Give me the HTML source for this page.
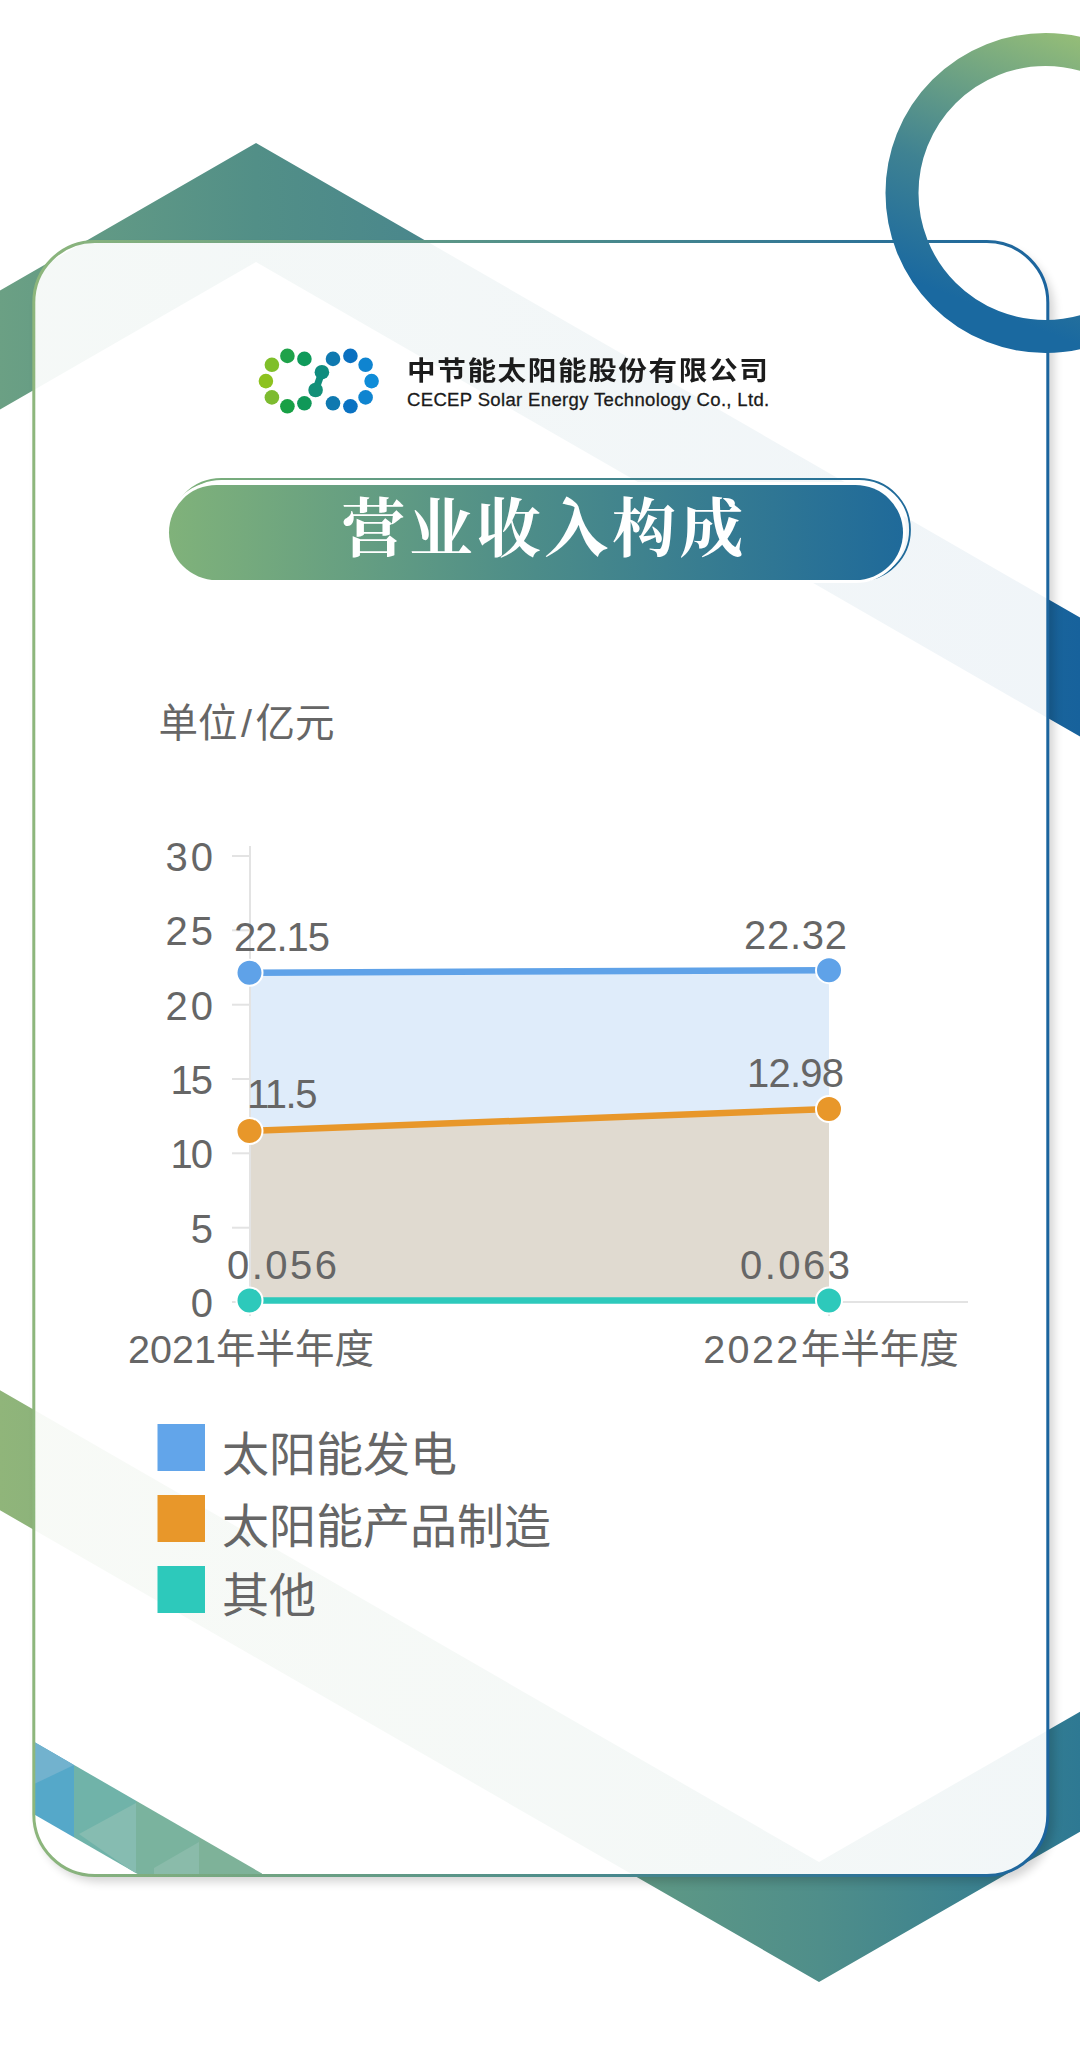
<!DOCTYPE html>
<html lang="zh-CN">
<head>
<meta charset="utf-8">
<title>营业收入构成</title>
<style>
html,body{margin:0;padding:0;}
body{width:1080px;height:2053px;position:relative;overflow:hidden;background:#fff;font-family:"Liberation Sans","Noto Sans CJK SC",sans-serif;}
svg{position:absolute;left:0;top:0;}
.t{position:absolute;white-space:nowrap;line-height:1;}
#cn{left:407.200px;top:358px;font-size:26px;font-weight:700;color:#1c1c1c;letter-spacing:1.450px;transform:scaleX(1.1);transform-origin:0 0;font-family:"Liberation Sans","Noto Sans CJK SC",sans-serif;}
#en{left:407px;top:390.500px;font-size:18.500px;color:#1a1a1a;letter-spacing:0.350px;-webkit-text-stroke:0.300px #1a1a1a;}
#title{left:341.500px;top:482px;height:95px;line-height:95px;letter-spacing:3.600px;font-family:"Liberation Serif","Noto Serif CJK SC",serif;font-weight:700;font-size:64px;color:#fff;}
#unit{left:158.500px;top:704px;font-size:39.500px;color:#666;}
#unit span{margin:0 3.500px;}
.lg{left:222px;font-size:47px;color:#666;}
</style>
</head>
<body>
<svg id="bg" width="1080" height="2053" viewBox="0 0 1080 2053">
<defs>
<linearGradient id="gTop" gradientUnits="userSpaceOnUse" x1="0" y1="0" x2="1080" y2="0">
<stop offset="0" stop-color="#6BA084"/><stop offset="0.237" stop-color="#528F87"/><stop offset="0.39" stop-color="#4A878C"/><stop offset="1" stop-color="#17629C"/>
</linearGradient>
<linearGradient id="gBot" gradientUnits="userSpaceOnUse" x1="0" y1="0" x2="1080" y2="0">
<stop offset="0" stop-color="#90B57A"/><stop offset="0.59" stop-color="#5F9985"/><stop offset="0.76" stop-color="#4F8E8A"/><stop offset="1" stop-color="#2E7993"/>
</linearGradient>
<linearGradient id="gCard" gradientUnits="userSpaceOnUse" x1="33" y1="0" x2="1050" y2="0">
<stop offset="0" stop-color="#8DB67C"/><stop offset="0.5" stop-color="#4F8E8A"/><stop offset="1" stop-color="#1B649E"/>
</linearGradient>
<linearGradient id="gRing" gradientUnits="userSpaceOnUse" x1="1080" y1="40" x2="960" y2="353">
<stop offset="0" stop-color="#93BC78"/><stop offset="0.5" stop-color="#3F8292"/><stop offset="0.85" stop-color="#1A69A0"/><stop offset="1" stop-color="#1A69A0"/>
</linearGradient>
<linearGradient id="gPill" gradientUnits="userSpaceOnUse" x1="169" y1="0" x2="903" y2="0">
<stop offset="0" stop-color="#80B27A"/><stop offset="0.5" stop-color="#4C8C89"/><stop offset="1" stop-color="#1F6A9A"/>
</linearGradient>
<linearGradient id="gBand" gradientUnits="userSpaceOnUse" x1="35" y1="0" x2="260" y2="0">
<stop offset="0" stop-color="#58A6CC"/><stop offset="0.4" stop-color="#78B3A8"/><stop offset="1" stop-color="#7FB08F"/>
</linearGradient>
<clipPath id="cardClip"><rect x="33.800" y="241.500" width="1014" height="1634" rx="61" ry="61"/></clipPath>
<filter id="sh" x="-5%" y="-5%" width="110%" height="110%"><feGaussianBlur stdDeviation="5"/></filter>
</defs>
<!-- chevrons -->
<polygon points="256,143 1080,617.600 1080,736.600 256,262 0,409.500 0,290.500" fill="url(#gTop)"/>
<polygon points="819,1982 1080,1831.700 1080,1711.700 819,1862 0,1390.300 0,1510.300" fill="url(#gBot)"/>
<!-- card shadow -->
<rect x="38" y="248" width="1016" height="1634" rx="62" ry="62" fill="#000" opacity="0.17" filter="url(#sh)"/>
<!-- card -->
<rect x="33.800" y="241.500" width="1014" height="1634" rx="61" ry="61" fill="#fff"/>
<g clip-path="url(#cardClip)" opacity="0.065">
<polygon points="256,143 1080,617.600 1080,736.600 256,262 0,409.500 0,290.500" fill="url(#gTop)"/>
<polygon points="819,1982 1080,1831.700 1080,1711.700 819,1862 0,1390.300 0,1510.300" fill="url(#gBot)"/>
</g>
<g clip-path="url(#cardClip)">
<clipPath id="bandClip"><polygon points="30,1739.500 262,1873.500 262,1880 148,1880 30,1812"/></clipPath>
<g clip-path="url(#bandClip)">
<rect x="30" y="1730" width="44" height="150" fill="#55A8C9"/>
<polygon points="30,1738 74,1765 30,1786" fill="#72B2CE"/>
<rect x="74" y="1730" width="62" height="150" fill="#70B3A9"/>
<polygon points="79,1834 136,1803 136,1874" fill="#86BCB1"/>
<rect x="136" y="1730" width="63" height="150" fill="#7AB39E"/>
<polygon points="154,1868 199,1842 199,1880 154,1880" fill="#8ABBAA"/>
<rect x="199" y="1730" width="64" height="150" fill="#7EB299"/>
</g>
</g>
<rect x="33.800" y="241.500" width="1014" height="1634" rx="61" ry="61" fill="none" stroke="url(#gCard)" stroke-width="3"/>
<!-- ring -->
<circle cx="1045.500" cy="193" r="143.500" fill="none" stroke="url(#gRing)" stroke-width="33"/>
<!-- title pill -->
<rect x="170.500" y="479" width="739.500" height="101.500" rx="50.750" fill="none" stroke="url(#gPill)" stroke-width="1.800"/>
<rect x="166" y="482" width="740" height="101" rx="50.500" fill="#fff"/>
<rect x="169" y="485" width="734" height="95" rx="47.500" fill="url(#gPill)"/>
<!-- logo dots -->
<g id="logo">
<circle cx="265.900" cy="381.100" r="7.300" fill="#8DC21F"/>
<circle cx="271.900" cy="364.800" r="7.300" fill="#7FBF2A"/>
<circle cx="271.900" cy="397.400" r="7.300" fill="#7DBB30"/>
<circle cx="287.400" cy="355.900" r="7.300" fill="#1FA24A"/>
<circle cx="287.400" cy="406.300" r="7.300" fill="#18A045"/>
<circle cx="304.400" cy="358.900" r="7.300" fill="#0F9A5A"/>
<circle cx="304.400" cy="403.300" r="7.300" fill="#109858"/>
<line x1="321.900" y1="372.200" x2="315.600" y2="390" stroke="#118D7B" stroke-width="7"/>
<circle cx="321.900" cy="372.200" r="7.300" fill="#0F8C7E"/>
<circle cx="315.600" cy="390" r="7.300" fill="#138F78"/>
<circle cx="333" cy="358.900" r="7.300" fill="#0F79B0"/>
<circle cx="333" cy="403.300" r="7.300" fill="#0F79B0"/>
<circle cx="350.400" cy="355.900" r="7.300" fill="#0A70C0"/>
<circle cx="350.400" cy="406.300" r="7.300" fill="#0A72C2"/>
<circle cx="365.600" cy="364.800" r="7.300" fill="#0F84D0"/>
<circle cx="365.600" cy="397.400" r="7.300" fill="#0F84D0"/>
<circle cx="371.600" cy="381.100" r="7.300" fill="#0F8CD8"/>
</g>
<!-- chart -->
<g id="chart" font-family="'Liberation Sans','Noto Sans CJK SC',sans-serif" font-size="40" fill="#666">
<!-- areas -->
<polygon points="250,972.700 829,970.200 829,1302 250,1302" fill="#5FA2E8" fill-opacity="0.2"/>
<polygon points="250,1131 829,1109 829,1302 250,1302" fill="#E8972A" fill-opacity="0.2"/>
<polygon points="250,1301.200 829,1301.100 829,1302 250,1302" fill="#2DC9BB" fill-opacity="0.2"/>
<!-- axes -->
<line x1="250" y1="846" x2="250" y2="1316" stroke="#e3e3e3" stroke-width="2"/>
<line x1="250" y1="1302" x2="968" y2="1302" stroke="#e3e3e3" stroke-width="2"/>
<line x1="829" y1="1302" x2="829" y2="1316" stroke="#e3e3e3" stroke-width="2"/>
<g stroke="#e3e3e3" stroke-width="2">
<line x1="232" y1="856" x2="250" y2="856"/><line x1="232" y1="930.300" x2="250" y2="930.300"/><line x1="232" y1="1004.700" x2="250" y2="1004.700"/><line x1="232" y1="1079" x2="250" y2="1079"/><line x1="232" y1="1153.300" x2="250" y2="1153.300"/><line x1="232" y1="1227.700" x2="250" y2="1227.700"/><line x1="232" y1="1302" x2="250" y2="1302"/>
</g>
<g text-anchor="end" letter-spacing="3">
<text x="216" y="871">30</text><text x="216" y="945.300">25</text><text x="216" y="1019.700">20</text><text x="211" y="1094" letter-spacing="-2">15</text><text x="211" y="1168.300" letter-spacing="-2">10</text><text x="216" y="1242.700">5</text><text x="216" y="1317">0</text>
</g>
<!-- lines -->
<line x1="250" y1="972.700" x2="829" y2="970.200" stroke="#5FA2E8" stroke-width="6.500"/>
<line x1="250" y1="1131" x2="829" y2="1109" stroke="#E8972A" stroke-width="6.500"/>
<line x1="250" y1="1300.500" x2="829" y2="1300.500" stroke="#2DC9BB" stroke-width="6.500"/>
<g stroke="#fff" stroke-width="2">
<circle cx="249.500" cy="972.700" r="13" fill="#5FA2E8"/><circle cx="829" cy="970.200" r="13" fill="#5FA2E8"/>
<circle cx="249.500" cy="1131" r="13" fill="#E8972A"/><circle cx="829" cy="1109" r="13" fill="#E8972A"/>
<circle cx="249.500" cy="1300.500" r="13" fill="#2DC9BB"/><circle cx="829" cy="1300.500" r="13" fill="#2DC9BB"/>
</g>
<!-- data labels -->
<text x="234" y="950.500" letter-spacing="-1">22.15</text>
<text x="247" y="1108" letter-spacing="-1.500">11.5</text>
<text x="227" y="1278.500" letter-spacing="2.500">0.056</text>
<text x="744" y="948.500" letter-spacing="0.750">22.32</text>
<text x="747" y="1086.700" letter-spacing="-0.750">12.98</text>
<text x="740" y="1279" letter-spacing="2.500">0.063</text>
<!-- x labels -->
<text x="251" y="1363" text-anchor="middle" font-size="39.500">2021年半年度</text>
<text x="831" y="1363" text-anchor="middle" font-size="39.500"><tspan letter-spacing="2.400">2022</tspan>年半年度</text>
</g>
<!-- legend squares -->
<rect x="157.500" y="1424" width="47.500" height="47" fill="#62A5EA"/>
<rect x="157.500" y="1495" width="47.500" height="47" fill="#E8972A"/>
<rect x="157.500" y="1566" width="47.500" height="47" fill="#2DC9BB"/>
</svg>
<div class="t" id="cn">中节能太阳能股份有限公司</div>
<div class="t" id="en">CECEP Solar Energy Technology Co., Ltd.</div>
<div class="t" id="title">营业收入构成</div>
<div class="t" id="unit">单位<span>/</span>亿元</div>
<div class="t lg" style="top:1431px">太阳能发电</div>
<div class="t lg" style="top:1502.500px">太阳能产品制造</div>
<div class="t lg" style="top:1572px">其他</div>
</body>
</html>
